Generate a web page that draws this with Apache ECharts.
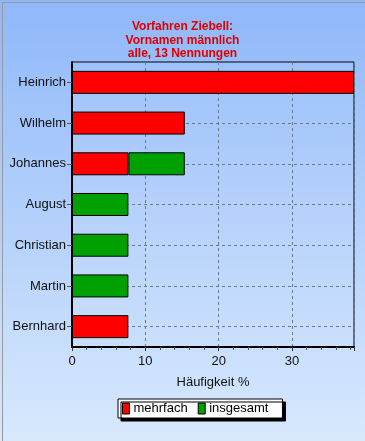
<!DOCTYPE html>
<html><head><meta charset="utf-8">
<script src="https://cdn.jsdelivr.net/npm/echarts@6/dist/echarts.min.js"></script>
<style>html,body{margin:0;padding:0;}#c{width:365px;height:441px;}</style>
</head><body><div id="c"></div>
<script>
const titleLines = ['Vorfahren Ziebell:', 'Vornamen männlich', 'alle, 13 Nennungen'];
const categories = ['Heinrich', 'Wilhelm', 'Johannes', 'August', 'Christian', 'Martin', 'Bernhard'];
const mehrfach = [38.46, 15.38, 7.69, null, null, null, 7.69];
const insgesamt = [null, null, 7.69, 7.69, 7.69, 7.69, null];
const xTicks = [0, 10, 20, 30];
const xName = 'Häufigkeit %';
const seriesNames = ['mehrfach', 'insgesamt'];

const chart = echarts.init(document.getElementById('c'), null, {renderer: 'canvas'});
const font = 'Liberation Sans, Arial, sans-serif';
chart.setOption({
  animation: false,
  backgroundColor: {type: 'linear', x: 0, y: 0, x2: 0, y2: 1,
    colorStops: [{offset: 0, color: '#8fb8fa'}, {offset: 1, color: '#d8e9fd'}]},
  title: {
    text: titleLines.join('\n'), left: 'center', top: 15,
    textStyle: {color: '#e00000', fontSize: 12, fontWeight: 'bold', fontFamily: font, lineHeight: 13.5}
  },
  graphic: [{type: 'rect', left: 0, top: 0, shape: {width: 364, height: 440},
    style: {fill: 'none', stroke: '#9a9a9a', lineWidth: 1}, silent: true}],
  legend: {
    data: seriesNames, bottom: 23, left: 118,
    backgroundColor: '#fff', borderColor: '#000', borderWidth: 1,
    shadowColor: '#000', shadowOffsetX: 3, shadowOffsetY: 3, shadowBlur: 0,
    padding: [3, 14, 3, 4], itemGap: 10, itemWidth: 7, itemHeight: 11, icon: 'rect',
    textStyle: {fontSize: 13, fontFamily: font, color: '#000', padding: [0, 0, 0, -1]},
    itemStyle: {borderColor: '#000', borderWidth: 1}
  },
  grid: {left: 72, right: 11, top: 62, bottom: 94, show: true, borderColor: '#000', borderWidth: 1,
    backgroundColor: 'rgba(255,255,255,0.05)'},
  xAxis: {
    type: 'value', min: 0, max: 38.46, interval: 10,
    name: xName, nameLocation: 'middle', nameGap: 29,
    nameTextStyle: {fontSize: 13, fontFamily: font, color: '#111'},
    axisLine: {show: true, lineStyle: {color: '#000', width: 2}},
    axisTick: {show: true, length: 4, lineStyle: {color: '#333'}},
    minorTick: {show: true, splitNumber: 5, length: 3, lineStyle: {color: '#555'}},
    axisLabel: {fontSize: 13, fontFamily: font, color: '#111', margin: 8, showMaxLabel: false,
      formatter: v => xTicks.includes(v) ? String(v) : ''},
    splitLine: {show: true, lineStyle: {color: '#6a7890', type: [3, 3], width: 1}}
  },
  yAxis: {
    type: 'category', data: categories, inverse: true,
    axisLine: {show: true, lineStyle: {color: '#000', width: 2}},
    axisTick: {show: true, alignWithLabel: true, length: 5, lineStyle: {color: '#555'}},
    axisLabel: {fontSize: 13, fontFamily: font, color: '#111', margin: 6},
    splitLine: {show: true, alignWithLabel: true, lineStyle: {color: '#6a7890', type: [3, 3], width: 1}}
  },
  series: [
    {name: seriesNames[0], type: 'bar', stack: 's', data: mehrfach, barWidth: 23,
      itemStyle: {color: '#ff0000', borderColor: '#000', borderWidth: 1}},
    {name: seriesNames[1], type: 'bar', stack: 's', data: insgesamt, barWidth: 23,
      itemStyle: {color: '#00a000', borderColor: '#000', borderWidth: 1}}
  ]
});
</script></body></html>
